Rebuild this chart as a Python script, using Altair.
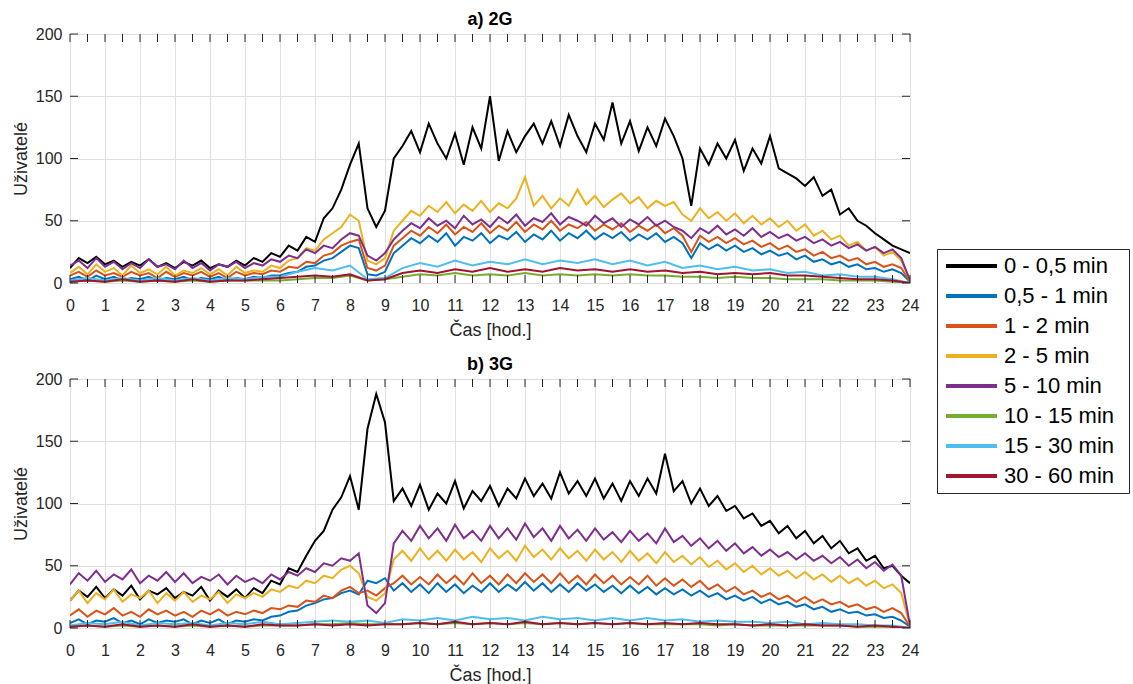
import altair as alt
import pandas as pd

FONT = "Liberation Sans"
AX = "#262626"

SERIES = ["0 - 0,5 min", "0,5 - 1 min", "1 - 2 min", "2 - 5 min",
          "5 - 10 min", "10 - 15 min", "15 - 30 min", "30 - 60 min"]
COLORS = ["#000000", "#0072BD", "#D95319", "#EDB120",
          "#7E2F8E", "#77AC30", "#4DBEEE", "#A2142F"]

HOURS_Q = [i / 4 for i in range(97)]   # sample times, 15-min step
HOURS_H = [i / 2 for i in range(49)]   # sample times, 30-min step
X_TICKS = [i / 2 for i in range(49)]
X_LABELS = list(range(25))
Y_TICKS = [0, 50, 100, 150, 200]

# ---------------- a) 2G ----------------
a_black = [12, 20, 16, 21, 15, 18, 13, 17, 14, 19, 13, 16, 12, 17, 14, 18, 12, 15, 13, 18, 14,
           20, 17, 24, 21, 30, 26, 37, 33, 52, 60, 75, 95, 112, 60, 45, 58, 100, 110, 122, 105,
           128, 112, 100, 120, 95, 125, 108, 150, 98, 122, 105, 118, 128, 112, 130, 110, 135, 118, 105, 128,
           115, 145, 112, 130, 106, 125, 110, 132, 118, 100, 62, 108, 95, 112, 100, 115, 90, 108, 96, 118,
           92, 88, 84, 78, 85, 70, 75, 55, 60, 50, 46, 40, 35, 30, 27, 24]
a_blue = [3, 5, 2, 6, 3, 5, 2, 4, 3, 5, 2, 4, 3, 5, 2, 4, 3, 5, 2, 4, 3,
          5, 4, 6, 6, 8, 9, 13, 14, 18, 20, 25, 30, 28, 7, 6, 9, 24, 30, 36, 32,
          38, 33, 40, 30, 37, 34, 40, 32, 38, 35, 41, 33, 39, 35, 42, 34, 40, 36, 42, 35,
          40, 36, 41, 34, 39, 35, 40, 33, 37, 32, 20, 32, 27, 31, 26, 30, 25, 28, 23, 26,
          22, 24, 19, 22, 17, 19, 15, 17, 13, 15, 11, 12, 9, 11, 8, 1]
a_orange = [6, 9, 5, 10, 6, 8, 5, 9, 6, 8, 4, 9, 5, 8, 6, 9, 5, 8, 4, 9, 6,
            8, 7, 10, 9, 13, 12, 17, 16, 22, 24, 30, 33, 35, 12, 10, 14, 30, 36, 42, 38,
            45, 40, 47, 39, 45, 41, 48, 40, 46, 42, 49, 41, 47, 43, 50, 42, 47, 44, 49, 42,
            47, 43, 48, 41, 46, 42, 47, 40, 44, 38, 25, 38, 33, 37, 32, 36, 31, 34, 29, 32,
            27, 30, 25, 27, 22, 25, 20, 22, 18, 20, 15, 17, 13, 15, 12, 1]
a_yellow = [8, 13, 7, 15, 9, 12, 6, 14, 8, 11, 7, 13, 6, 10, 8, 12, 7, 11, 6, 13, 8,
            10, 9, 14, 12, 18, 20, 28, 26, 35, 40, 45, 55, 50, 18, 15, 20, 42, 50, 58, 54,
            62, 57, 65, 56, 63, 58, 66, 57, 64, 60, 68, 85, 62, 70, 60, 68, 62, 75, 63, 70,
            61, 67, 72, 64, 69, 60, 66, 62, 65, 55, 50, 60, 52, 57, 50, 56, 48, 54, 47, 52,
            45, 50, 42, 47, 38, 42, 35, 38, 30, 33, 26, 29, 22, 25, 18, 2]
a_purple = [14, 18, 12, 20, 13, 17, 11, 16, 12, 19, 13, 15, 11, 18, 12, 16, 10, 15, 13, 17, 12,
            16, 14, 19, 17, 22, 20, 27, 24, 30, 28, 35, 40, 38, 22, 18, 24, 35, 42, 48, 44,
            52, 46, 50, 44, 54, 47, 51, 45, 53, 48, 55, 46, 52, 49, 56, 47, 53, 50, 46, 54,
            48, 52, 45, 51, 47, 53, 46, 50, 45, 42, 36, 44, 40, 46, 39, 43, 38, 44, 37, 41,
            36, 39, 34, 37, 32, 35, 30, 33, 28, 31, 26, 29, 24, 27, 20, 2]
a_green = [1, 2, 1, 2, 1, 2, 1, 2, 1, 2, 2, 2, 2, 3, 4, 4, 6, 2, 3, 5,
           7, 6, 8, 6, 7, 6, 8, 6, 7, 6, 7, 6, 7, 6, 6, 5, 5, 4, 5, 4,
           4, 3, 3, 3, 2, 2, 2, 1, 0]
a_cyan = [2, 4, 2, 4, 2, 4, 2, 4, 2, 4, 3, 5, 5, 9, 12, 10, 14, 3, 4, 12,
          16, 13, 18, 14, 17, 15, 19, 15, 18, 16, 19, 15, 18, 14, 17, 12, 14, 11, 13, 10,
          11, 8, 9, 6, 7, 5, 5, 3, 0]
a_red = [1, 2, 1, 3, 1, 2, 1, 3, 1, 2, 2, 3, 4, 5, 6, 5, 7, 2, 3, 8,
         10, 8, 11, 9, 12, 9, 11, 9, 12, 10, 11, 9, 11, 9, 10, 8, 9, 7, 8, 7,
         8, 6, 6, 5, 4, 3, 3, 2, 0]

# ---------------- b) 3G ----------------
b_black = [22, 30, 25, 33, 24, 31, 26, 34, 23, 30, 27, 32, 24, 29, 26, 33, 22, 30, 25, 31, 24,
           32, 28, 38, 35, 48, 45, 58, 70, 78, 95, 105, 122, 95, 160, 188, 165, 102, 112, 98, 115,
           95, 108, 100, 118, 96, 110, 102, 114, 98, 112, 104, 120, 106, 116, 104, 125, 108, 118, 106, 120,
           104, 116, 102, 118, 106, 120, 108, 140, 110, 118, 100, 112, 98, 106, 94, 98, 88, 92, 82, 86,
           76, 82, 72, 78, 68, 74, 64, 70, 60, 64, 54, 58, 48, 50, 42, 36]
b_blue = [4, 7, 3, 6, 5, 8, 4, 6, 3, 7, 4, 6, 5, 7, 3, 6, 4, 7, 3, 6, 5,
          7, 6, 9, 10, 13, 14, 18, 20, 23, 24, 28, 30, 27, 38, 36, 40, 30, 36, 29, 35,
          28, 36, 29, 35, 28, 34, 29, 36, 29, 35, 30, 37, 30, 36, 29, 35, 29, 36, 30, 35,
          29, 34, 28, 34, 28, 33, 27, 32, 27, 31, 26, 30, 25, 28, 23, 26, 22, 25, 20, 23,
          19, 21, 17, 19, 15, 17, 13, 15, 12, 13, 10, 11, 8, 9, 6, 1]
b_orange = [10, 15, 9, 14, 11, 16, 10, 13, 9, 15, 11, 14, 10, 13, 9, 14, 11, 15, 10, 13, 11,
            14, 12, 16, 15, 18, 17, 22, 21, 26, 24, 30, 33, 28, 30, 26, 32, 36, 42, 35, 41,
            35, 43, 36, 42, 35, 44, 36, 42, 35, 43, 36, 44, 37, 43, 36, 44, 36, 42, 35, 43,
            36, 42, 35, 41, 35, 42, 34, 40, 34, 39, 33, 38, 31, 35, 29, 33, 27, 30, 25, 28,
            23, 26, 21, 25, 20, 23, 19, 21, 17, 19, 15, 17, 13, 16, 12, 1]
b_yellow = [22, 30, 20, 28, 23, 31, 21, 27, 24, 30, 20, 28, 22, 29, 21, 26, 23, 29, 20, 27, 24,
            28, 25, 31, 29, 34, 32, 38, 36, 42, 40, 47, 50, 44, 25, 22, 28, 55, 62, 54, 64,
            55, 62, 54, 63, 55, 61, 53, 64, 56, 62, 54, 66, 57, 63, 55, 64, 56, 62, 54, 63,
            55, 61, 53, 62, 54, 60, 52, 61, 53, 58, 51, 57, 49, 54, 47, 52, 45, 50, 43, 48,
            42, 46, 40, 45, 39, 43, 37, 42, 36, 40, 34, 38, 32, 35, 28, 2]
b_purple = [35, 44, 38, 46, 37, 43, 39, 47, 36, 42, 38, 45, 37, 44, 36, 41, 38, 43, 35, 42, 37,
            40, 36, 43, 39, 45, 42, 48, 45, 52, 50, 56, 54, 60, 18, 12, 20, 68, 78, 70, 82,
            72, 80, 70, 83, 72, 78, 70, 82, 72, 80, 71, 84, 73, 80, 70, 82, 72, 79, 70, 80,
            71, 77, 69, 78, 70, 76, 68, 80, 69, 74, 66, 72, 64, 70, 62, 68, 60, 65, 58, 63,
            57, 61, 55, 60, 54, 58, 52, 57, 50, 55, 48, 53, 46, 51, 42, 2]
b_green = [1, 2, 1, 2, 1, 2, 1, 2, 1, 2, 1, 2, 2, 2, 3, 3, 4, 3, 3, 3,
           4, 3, 4, 3, 4, 3, 4, 3, 4, 3, 4, 3, 4, 3, 3, 3, 3, 2, 3, 2,
           2, 2, 2, 2, 2, 1, 1, 1, 0]
b_cyan = [2, 4, 3, 5, 2, 4, 3, 4, 2, 4, 3, 5, 3, 4, 5, 6, 5, 6, 4, 7,
          6, 8, 6, 9, 7, 8, 6, 9, 7, 8, 6, 8, 6, 8, 6, 7, 5, 6, 5, 5,
          4, 5, 3, 4, 3, 3, 2, 2, 0]
b_red = [1, 2, 1, 3, 1, 2, 1, 3, 1, 2, 1, 3, 2, 2, 3, 2, 3, 2, 3, 3,
         4, 3, 5, 3, 4, 3, 5, 3, 4, 3, 4, 3, 4, 3, 4, 3, 4, 3, 3, 2,
         3, 2, 3, 2, 2, 1, 2, 1, 0]

A_ALL = [a_black, a_blue, a_orange, a_yellow, a_purple, a_green, a_cyan, a_red]
B_ALL = [b_black, b_blue, b_orange, b_yellow, b_purple, b_green, b_cyan, b_red]


def to_long(all_vals):
    rows = []
    for name, vals in zip(SERIES, all_vals):
        assert len(vals) in (97, 49), (name, len(vals))
        hrs = HOURS_Q if len(vals) == 97 else HOURS_H
        for h, v in zip(hrs, vals):
            rows.append({"t": h, "v": v, "s": name})
    return pd.DataFrame(rows)


W, H = 840, 249
TL = 8
NB = "\u00a0"
ZW = "\u200b"

LEGEND = alt.Legend(
    title=None, orient="none", legendX=867, legendY=215,
    symbolType="stroke", symbolSize=2600, symbolStrokeWidth=4,
    clipHeight=29.9, rowPadding=0, labelFontSize=22, labelFont=FONT,
    labelColor="#000000", strokeColor=AX, fillColor="white",
    padding=2, symbolOffset=5, labelOffset=5, labelLimit=400,
    labelExpr="datum.label + '" + NB * 2 + ZW + "'",
)

XS = alt.Scale(domain=[0, 24], nice=False, zero=False)
YS = alt.Scale(domain=[0, 200], nice=False)
XAXIS = alt.Axis(values=X_LABELS, format="d", title="Čas [hod.]", tickSize=0,
                 domain=False, labelPadding=14, titlePadding=8, grid=True,
                 labelFlush=False)
YAXIS = alt.Axis(values=Y_TICKS, title="Uživatelé", tickSize=0, domain=False,
                 labelPadding=8, titlePadding=5, grid=True, labelFlush=False)


def panel(df, title):
    lines = alt.Chart(df).mark_line(strokeWidth=2, clip=True).encode(
        x=alt.X("t:Q", scale=XS, axis=XAXIS),
        y=alt.Y("v:Q", scale=YS, axis=YAXIS),
        color=alt.Color("s:N", scale=alt.Scale(domain=SERIES, range=COLORS),
                        legend=LEGEND),
    )
    xt = pd.DataFrame({"t": X_TICKS})
    yt = pd.DataFrame({"v": Y_TICKS})
    top = alt.Chart(xt).mark_rule(color=AX, strokeWidth=1).encode(
        x=alt.X("t:Q", scale=XS, axis=XAXIS), y=alt.value(0), y2=alt.value(TL))
    bot = alt.Chart(xt).mark_rule(color=AX, strokeWidth=1).encode(
        x=alt.X("t:Q", scale=XS, axis=XAXIS), y=alt.value(H), y2=alt.value(H - TL))
    left = alt.Chart(yt).mark_rule(color=AX, strokeWidth=1).encode(
        y=alt.Y("v:Q", scale=YS, axis=YAXIS), x=alt.value(0), x2=alt.value(TL))
    right = alt.Chart(yt).mark_rule(color=AX, strokeWidth=1).encode(
        y=alt.Y("v:Q", scale=YS, axis=YAXIS), x=alt.value(W), x2=alt.value(W - TL))
    return alt.layer(lines, top, bot, left, right).properties(
        width=W, height=H,
        title=alt.Title(title, fontSize=18, fontWeight="bold", font=FONT,
                        color="#000000", offset=-3),
    )


pa = panel(to_long(A_ALL), "a) 2G")
pb = panel(to_long(B_ALL), "b) 3G")

chart = alt.vconcat(pa, pb, spacing=15).properties(
    padding={"left": 11, "top": 10, "right": 0, "bottom": 0}
).configure_view(
    stroke=AX, strokeWidth=1
).configure_axis(
    labelFont=FONT, titleFont=FONT, labelFontSize=16, titleFontSize=18,
    labelColor=AX, titleColor=AX, titleFontWeight="normal",
    gridColor="#dfdfdf", gridWidth=1,
)

chart.save("out.html", embed_options={"renderer": "svg", "actions": False})
